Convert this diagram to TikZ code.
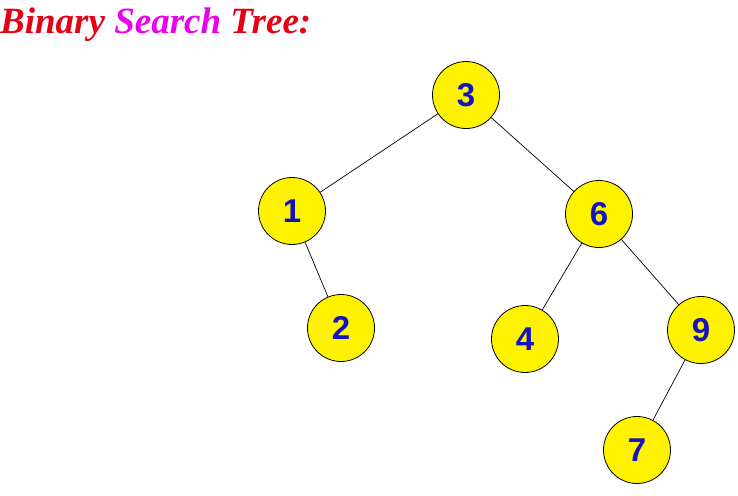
\documentclass[tikz,border=0pt]{standalone}
\usepackage{fontspec}
\setmainfont{Liberation Serif}
\newfontfamily\numfont{Liberation Sans}
\definecolor{titlered}{RGB}{230,0,20}
\definecolor{titlemag}{RGB}{235,0,235}
\definecolor{numblue}{RGB}{20,20,190}
\begin{document}
\begin{tikzpicture}[x=1pt,y=-1pt,
  bst/.style={circle,draw=black,line width=0.8pt,fill=yellow,minimum size=67pt,inner sep=0pt,
    font=\numfont\bfseries\fontsize{33}{33}\selectfont,text=numblue},
  edge/.style={draw=black,line width=0.7pt}]
\useasboundingbox (0,0) rectangle (738,495);
\node[anchor=base west,inner sep=0pt,font=\bfseries\itshape\fontsize{37}{37}\selectfont] (title) at (0,34)
  {\textcolor{titlered}{Binary} \textcolor{titlemag}{Search} \textcolor{titlered}{Tree:}};
\node[bst] (n3) at (466,95) {3};
\node[bst] (n1) at (292,211) {1};
\node[bst] (n6) at (599,214) {6};
\node[bst] (n2) at (341,328) {2};
\node[bst] (n4) at (525,339) {4};
\node[bst] (n9) at (701,330) {9};
\node[bst] (n7) at (637,450) {7};
\draw[edge] (n3) -- (n1);
\draw[edge] (n3) -- (n6);
\draw[edge] (n1) -- (n2);
\draw[edge] (n6) -- (n4);
\draw[edge] (n6) -- (n9);
\draw[edge] (n9) -- (n7);
\end{tikzpicture}
\end{document}
